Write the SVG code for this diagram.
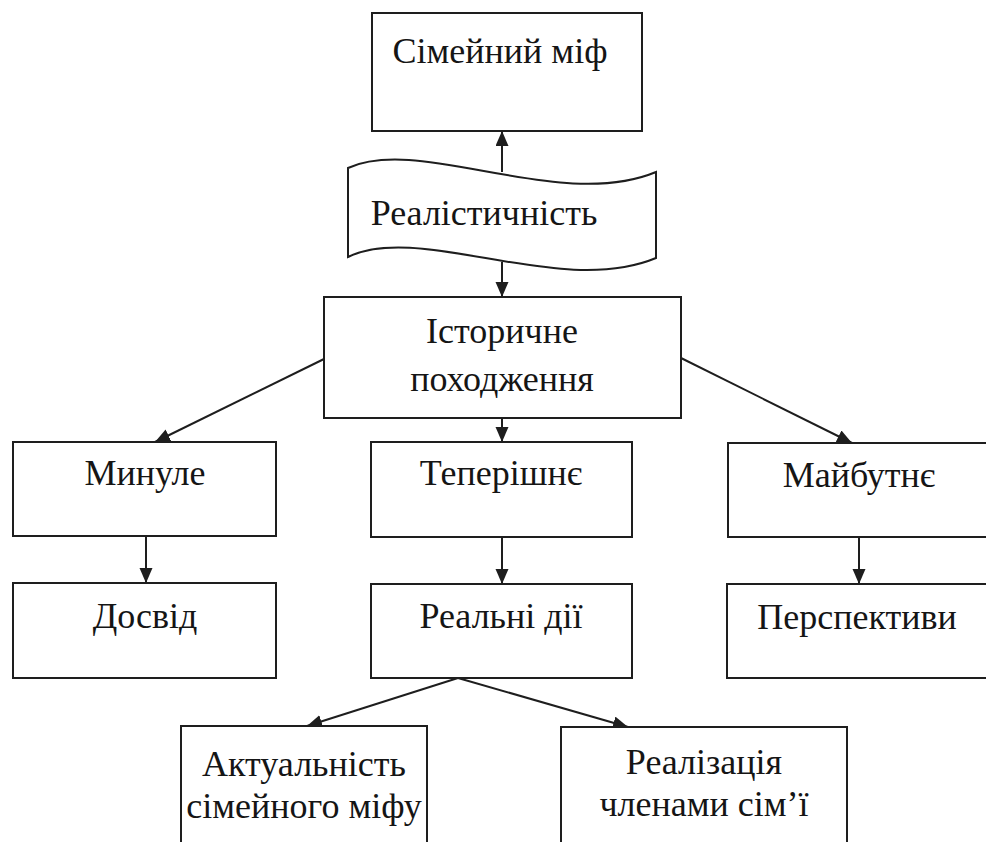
<svg xmlns="http://www.w3.org/2000/svg" width="986" height="842" viewBox="0 0 986 842">
<style>
.box{fill:#ffffff;stroke:#1e1e1e;stroke-width:2}
.lbl{font-size:36px;fill:#151515;text-anchor:middle}
.con{stroke:#1e1e1e;stroke-width:2;fill:none;marker-end:url(#ah)}
</style>
<defs>
<marker id="ah" markerUnits="userSpaceOnUse" markerWidth="16" markerHeight="14" refX="15" refY="6.5" orient="auto">
<path d="M0,0 L15,6.5 L0,13 Z" fill="#1e1e1e"/>
</marker>
</defs>
<rect width="986" height="842" fill="#ffffff"/>
<g id="connectors">
<line class="con" x1="502" y1="172" x2="502" y2="131"/>
<line class="con" x1="502" y1="262" x2="502" y2="297"/>
<line class="con" x1="324" y1="359" x2="155" y2="442"/>
<line class="con" x1="502" y1="418" x2="502" y2="442"/>
<line class="con" x1="681" y1="358" x2="852" y2="443"/>
<line class="con" x1="146" y1="536" x2="146" y2="583"/>
<line class="con" x1="502" y1="537" x2="502" y2="584"/>
<line class="con" x1="859" y1="537" x2="859" y2="584"/>
<line class="con" x1="458" y1="678" x2="307" y2="726"/>
<line class="con" x1="458" y1="678" x2="628" y2="727"/>
</g>
<g font-family="'Liberation Serif', 'DejaVu Serif', serif">
<g id="n-mif">
<rect class="box" x="372" y="13" width="270" height="118"/>
<text class="lbl" x="500" y="63">Сімейний міф</text>
</g>
<g id="n-realist">
<path class="box" d="M348,168 C420,135 560,212 656,172 L656,258 C560,298 420,222 348,257 Z"/>
<text class="lbl" x="484" y="225">Реалістичність</text>
</g>
<g id="n-istor">
<rect class="box" x="324" y="297" width="357" height="121"/>
<text class="lbl" x="502" y="343">Історичне</text>
<text class="lbl" x="502" y="391">походження</text>
</g>
<g id="n-mynule">
<rect class="box" x="13" y="442" width="263" height="94"/>
<text class="lbl" x="145" y="485">Минуле</text>
</g>
<g id="n-teper">
<rect class="box" x="371" y="442" width="261" height="95"/>
<text class="lbl" x="501" y="485">Теперішнє</text>
</g>
<g id="n-maib">
<rect class="box" x="728" y="443" width="272" height="94"/>
<text class="lbl" x="859" y="487">Майбутнє</text>
</g>
<g id="n-dosvid">
<rect class="box" x="13" y="583" width="263" height="95"/>
<text class="lbl" x="145" y="628">Досвід</text>
</g>
<g id="n-realni">
<rect class="box" x="371" y="584" width="261" height="94"/>
<text class="lbl" x="501" y="628">Реальні дії</text>
</g>
<g id="n-persp">
<rect class="box" x="727" y="584" width="273" height="94"/>
<text class="lbl" x="857" y="629">Перспективи</text>
</g>
<g id="n-aktual">
<rect class="box" x="181" y="726" width="246" height="130"/>
<text class="lbl" x="304" y="776">Актуальність</text>
<text class="lbl" x="304" y="818">сімейного міфу</text>
</g>
<g id="n-realiz">
<rect class="box" x="561" y="727" width="286" height="130"/>
<text class="lbl" x="704" y="774">Реалізація</text>
<text class="lbl" x="704" y="816">членами сім’ї</text>
</g>
</g>
</svg>
